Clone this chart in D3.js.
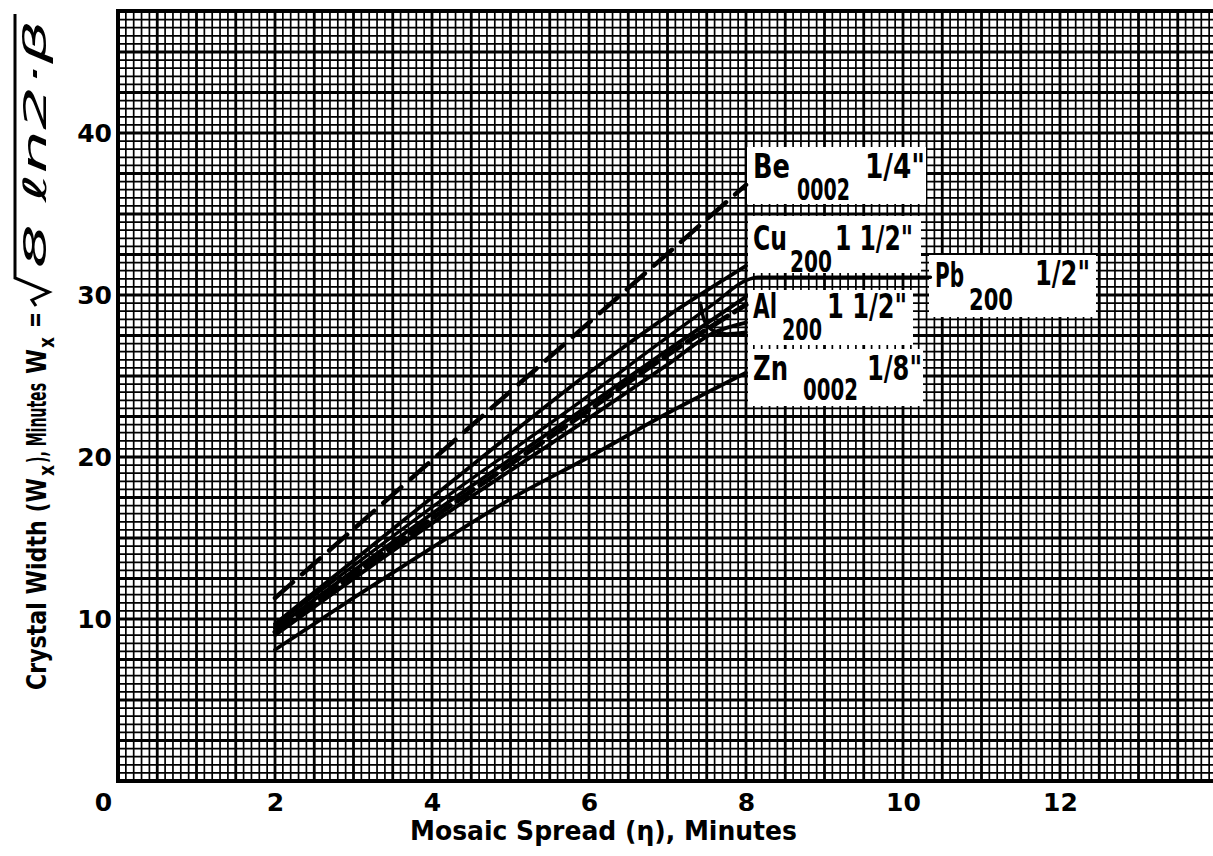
<!DOCTYPE html>
<html>
<head>
<meta charset="utf-8">
<script src="https://cdn.jsdelivr.net/npm/d3@7"></script>
<style>
  body { margin: 0; background: #fff; }
  svg { display: block; }
  text { fill: #000; }
</style>
</head>
<body>
<svg id="chart" width="1213" height="856"></svg>
<script>
'use strict';

// tick labels
const xTicks = [0, 2, 4, 6, 8, 10, 12];
const yTicks = [10, 20, 30, 40];

// curves: mosaic spread (min) -> crystal width (min)
const beX = [2, 8];
const beY = [11.3, 36.8];
const cuX = [2, 3, 4, 5, 6, 7, 8];
const cuY = [9.7, 13.6, 17.5, 21.4, 25.2, 28.7, 31.8];
const pbX = [2, 4, 6, 7, 7.6, 8, 8.15, 10.35];
const pbY = [9.6, 16.9, 23.8, 27.4, 29.5, 30.9, 31.1, 31.1];
const alX = [2, 4, 6, 7, 8];
const alY1 = [9.4, 16.5, 23.2, 26.6, 29.9];
const alY2 = [9.2, 16.2, 22.9, 26.3, 29.4];
const al3X = [2, 4, 6, 7, 7.6, 8];
const al3Y = [9.0, 15.9, 22.4, 25.7, 27.7, 28.3];
const hookX = [7.42, 7.47, 7.58, 7.75, 8];
const hookY = [29.5, 28.4, 27.8, 27.6, 27.7];
const znX = [2, 3, 4, 5, 6, 7, 8];
const znY = [8.1, 11.3, 14.4, 17.4, 20.0, 22.7, 25.2];

// curve labels
const labelNames = ['Be', 'Cu', 'Pb', 'Al', 'Zn'];
const labelSubs = ['0002', '200', '200', '200', '0002'];
const labelThick = ['1/4"', '1 1/2"', '1/2"', '1 1/2"', '1/8"'];

const width = 1213;
const left = 118;
const bottom = 781;
const yTop = 47.6;

const svg = d3.select('#chart');

const x = d3.scaleLinear().domain([0, 14]).range([left, left + 14 * 78.5]);
const y = d3.scaleLinear().domain([0, 40]).range([bottom, 133]);

// graph paper: fine lines every 0.1 (x) / 0.5 (y), heavy every 5th
const grid = svg.append('g').attr('class', 'grid');
const xLines = d3.range(0, 141).map(i => ({v: i / 10, major: i % 5 === 0}));
const yLines = d3.range(0, 96).map(i => ({v: i / 2, major: i % 5 === 0}))
  .filter(d => d.v <= yTop);

grid.selectAll('.vx')
  .data(xLines)
  .enter()
  .append('line')
  .attr('x1', d => x(d.v)).attr('x2', d => x(d.v))
  .attr('y1', y(yTop)).attr('y2', bottom)
  .attr('stroke', '#000')
  .attr('stroke-width', d => d.major ? 2.8 : 1.7);

grid.selectAll('.hy')
  .data(yLines)
  .enter()
  .append('line')
  .attr('x1', left).attr('x2', width)
  .attr('y1', d => y(d.v)).attr('y2', d => y(d.v))
  .attr('stroke', '#000')
  .attr('stroke-width', d => d.major ? 2.8 : 1.7);

grid.append('line')
  .attr('x1', left).attr('x2', width)
  .attr('y1', y(yTop)).attr('y2', y(yTop))
  .attr('stroke', '#000').attr('stroke-width', 1.7);

// axis frame
svg.append('line')
  .attr('x1', left).attr('x2', left)
  .attr('y1', y(yTop) - 1).attr('y2', bottom + 2)
  .attr('stroke', '#000').attr('stroke-width', 4);
svg.append('line')
  .attr('x1', left - 2).attr('x2', width)
  .attr('y1', bottom).attr('y2', bottom)
  .attr('stroke', '#000').attr('stroke-width', 4);

// white label boxes sit on top of the grid
const labelLayout = [
  {box: [747, 147, 926, 204], main: [753, 178, 37], sub: [797, 200, 53], thick: [865, 178, 60]},
  {box: [748, 216, 921, 273], main: [753, 250, 34], sub: [790, 272, 42], thick: [835, 250, 78]},
  {box: [929, 255, 1096, 317], main: [935, 287, 29], sub: [969, 310, 44], thick: [1035, 285, 55]},
  {box: [748, 290, 913, 345], main: [753, 318, 24], sub: [782, 340, 40], thick: [827, 318, 80]},
  {box: [748, 349, 923, 406], main: [753, 380, 35], sub: [803, 400, 55], thick: [867, 380, 55]}
];

svg.append('g')
  .selectAll('rect')
  .data(labelLayout)
  .enter()
  .append('rect')
  .attr('x', d => d.box[0])
  .attr('y', d => d.box[1])
  .attr('width', d => d.box[2] - d.box[0])
  .attr('height', d => d.box[3] - d.box[1])
  .attr('fill', '#fff');

// curves
const series = [
  {xs: beX, ys: beY, dash: '24,12', w: 4.5},
  {xs: cuX, ys: cuY, dash: null, w: 3.8},
  {xs: pbX, ys: pbY, dash: null, w: 3.4},
  {xs: alX, ys: alY1, dash: null, w: 3.8},
  {xs: alX, ys: alY2, dash: '20,8', w: 5},
  {xs: al3X, ys: al3Y, dash: null, w: 3.8},
  {xs: hookX, ys: hookY, dash: null, w: 3.4},
  {xs: znX, ys: znY, dash: null, w: 3.8}
];

const line = d3.line()
  .x(d => x(d[0]))
  .y(d => y(d[1]))
  .curve(d3.curveMonotoneX);

svg.append('g')
  .selectAll('path')
  .data(series)
  .enter()
  .append('path')
  .attr('d', d => line(d.xs.map((v, i) => [v, d.ys[i]])))
  .attr('fill', 'none')
  .attr('stroke', '#000')
  .attr('stroke-width', d => d.w)
  .attr('stroke-dasharray', d => d.dash)
  .attr('stroke-linecap', 'round');

function piece(sel, str, px, py, size, len, adjust) {
  const t = sel.append('text')
    .attr('x', px)
    .attr('y', py)
    .attr('font-size', size)
    .text(str);
  if (len) {
    t.attr('textLength', len).attr('lengthAdjust', adjust || 'spacingAndGlyphs');
  }
  return t;
}

const labels = svg.append('g')
  .attr('font-family', '"DejaVu Sans Condensed", "DejaVu Sans", sans-serif')
  .attr('font-weight', 'bold');

labelLayout.forEach((l, i) => {
  piece(labels, labelNames[i], l.main[0], l.main[1], 34, l.main[2]);
  piece(labels, labelSubs[i], l.sub[0], l.sub[1], 30, l.sub[2]);
  piece(labels, labelThick[i], l.thick[0], l.thick[1], 34, l.thick[2]);
});

// axes: tick text only, the paper carries the lines
const xAxis = svg.append('g')
  .attr('transform', `translate(0, ${bottom})`)
  .call(d3.axisBottom(x).tickValues(xTicks).tickSize(0).tickPadding(12).tickFormat(d3.format('d')));
const yAxis = svg.append('g')
  .attr('transform', `translate(${left}, 0)`)
  .call(d3.axisLeft(y).tickValues(yTicks).tickSize(0).tickPadding(6).tickFormat(d3.format('d')));

[xAxis, yAxis].forEach(a => {
  a.select('.domain').remove();
  a.selectAll('text')
    .attr('font-family', '"DejaVu Sans", sans-serif')
    .attr('font-weight', 'bold')
    .attr('font-size', 25)
    .attr('fill', '#000');
});
xAxis.selectAll('.tick')
  .filter(d => d === 0)
  .select('text')
  .attr('x', -15);

// x title
const titles = svg.append('g')
  .attr('font-family', '"DejaVu Sans Condensed", "DejaVu Sans", sans-serif')
  .attr('font-weight', 'bold');
piece(titles, 'Mosaic Spread (\u03b7), Minutes', 410, 840, 26, 387);

// y title, rotated; local x runs up the page
const yt = titles.append('g').attr('transform', 'translate(46, 0) rotate(-90)');
piece(yt, 'Crystal Width (W', -690, 0, 26, 212);
piece(yt, 'x', -476, 8, 21, 11);
piece(yt, '), Minutes', -463, 0, 26, 80);
piece(yt, 'W', -374, 0, 27, 25);
piece(yt, 'x', -348, 8, 21, 11);
piece(yt, '=', -328, -2, 26, 16);
piece(yt, '8 \u2113n2\u00b7\u03b2', -268, 0, 32, 248)
  .attr('font-weight', 'normal')
  .attr('font-style', 'italic');

// radical sign over the formula
yt.append('path')
  .attr('d', d3.line()([[-306, -10], [-300, -14], [-292, 3], [-278, -31], [-14, -31]]))
  .attr('fill', 'none')
  .attr('stroke', '#000')
  .attr('stroke-width', 3);
</script>
</body>
</html>
